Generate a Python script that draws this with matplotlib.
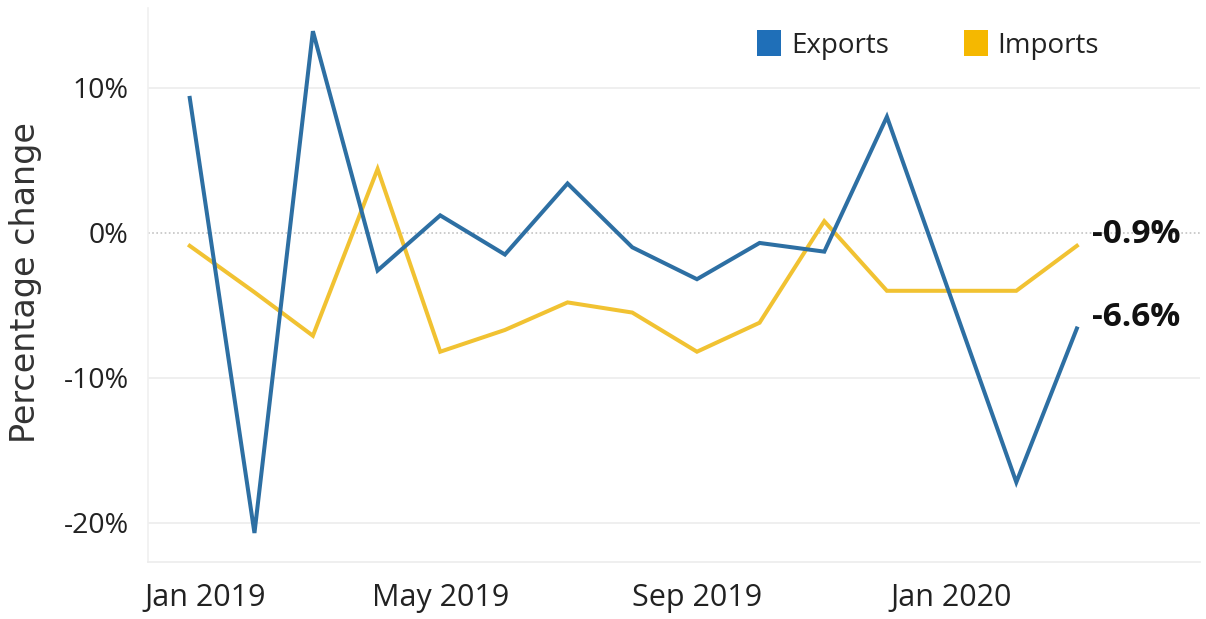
import matplotlib
matplotlib.use("Agg")
import matplotlib.pyplot as plt
from matplotlib.patches import Patch
from matplotlib.transforms import ScaledTranslation
import datetime as dt

months = ["2019-01", "2019-02", "2019-03", "2019-04", "2019-05", "2019-06", "2019-07",
          "2019-08", "2019-09", "2019-10", "2019-11", "2019-12", "2020-01", "2020-02", "2020-03"]
exports = [9.3, -20.7, 13.9, -2.6, 1.2, -1.5, 3.4, -1.0, -3.2, -0.7, -1.3, 8.0, -4.6, -17.2, -6.6]
imports = [-0.9, -4.1, -7.1, 4.4, -8.2, -6.7, -4.8, -5.5, -8.2, -6.2, 0.8, -4.0, -4.0, -4.0, -0.9]
tick_months = ["2019-01", "2019-05", "2019-09", "2020-01"]
tick_labels = ["Jan 2019", "May 2019", "Sep 2019", "Jan 2020"]
y_ticks = [10, 0, -10, -20]
y_tick_labels = ["10%", "0%", "-10%", "-20%"]
series_names = ["Exports", "Imports"]
end_labels = ["-6.6%", "-0.9%"]


def to_date(s):
    y, m = s.split("-")
    return dt.date(int(y), int(m), 1)


dates = [to_date(m) for m in months]

BLUE = "#2d6fa3"
YELLOW = "#f1c232"
FONT = ["Open Sans", "DejaVu Sans"]

W, H = 1206, 619
fig = plt.figure(figsize=(W / 100, H / 100), dpi=100)
ax = fig.add_axes([148 / W, 1 - 562 / H, (1200 - 148) / W, (562 - 8) / H])

ax.plot(dates, imports, color=YELLOW, lw=2.9, solid_joinstyle="miter", zorder=3)
ax.plot(dates, exports, color=BLUE, lw=2.9, solid_joinstyle="miter", zorder=4)

ax.set_xlim(dates[0] - dt.timedelta(days=20), dates[-1] + dt.timedelta(days=59))
ax.set_ylim(-22.7, 15.5)

for yv in y_ticks:
    if yv == 0:
        ax.axhline(yv, color="#c4c4c4", lw=1.2, ls=(0, (1, 1.5)), zorder=1)
    else:
        ax.axhline(yv, color="#ececec", lw=1.2, zorder=1)

for s in ["top", "right"]:
    ax.spines[s].set_visible(False)
ax.spines["left"].set_color("#f0f0f0")
ax.spines["bottom"].set_color("#ececec")
ax.spines["left"].set_linewidth(1.2)
ax.spines["bottom"].set_linewidth(1.2)

ax.set_yticks(y_ticks)
ax.set_yticklabels(y_tick_labels, family=FONT, fontsize=20.5, color="#222222")
ax.set_xticks([to_date(m) for m in tick_months])
ax.set_xticklabels(tick_labels, family=FONT, fontsize=22, color="#222222")
ax.tick_params(axis="both", length=0)
ax.tick_params(axis="y", pad=14)
ax.tick_params(axis="x", pad=15)
first = ax.get_xticklabels()[0]
first.set_transform(first.get_transform() + ScaledTranslation(0.15, 0, fig.dpi_scale_trans))

fig.text(26 / W, 1 - 283 / H, "Percentage change", family=["DejaVu Sans"], fontsize=24,
         color="#333333", rotation=90, ha="center", va="center")

# end labels
ax.annotate(end_labels[0], xy=(dates[-1], exports[-1]), xytext=(11, 8), textcoords="offset points",
            family=FONT, fontsize=24, fontweight="bold", color="#111111", va="center", ha="left")
ax.annotate(end_labels[1], xy=(dates[-1], imports[-1]), xytext=(11, 8), textcoords="offset points",
            family=FONT, fontsize=24, fontweight="bold", color="#111111", va="center", ha="left")

# legend
handles = [Patch(facecolor="#1f6fb8", edgecolor="none"), Patch(facecolor="#f5b800", edgecolor="none")]
leg = ax.legend(handles, series_names, loc="center right",
                bbox_to_anchor=(1099 / W, 1 - 45 / H), bbox_transform=fig.transFigure,
                ncol=2, frameon=False, prop={"family": FONT, "size": 20},
                handlelength=0.85, handleheight=1.05, handletextpad=0.36, columnspacing=2.7,
                borderpad=0, borderaxespad=0)
for t in leg.get_texts():
    t.set_color("#222222")

fig.savefig("out.png", dpi=100, facecolor="white")
